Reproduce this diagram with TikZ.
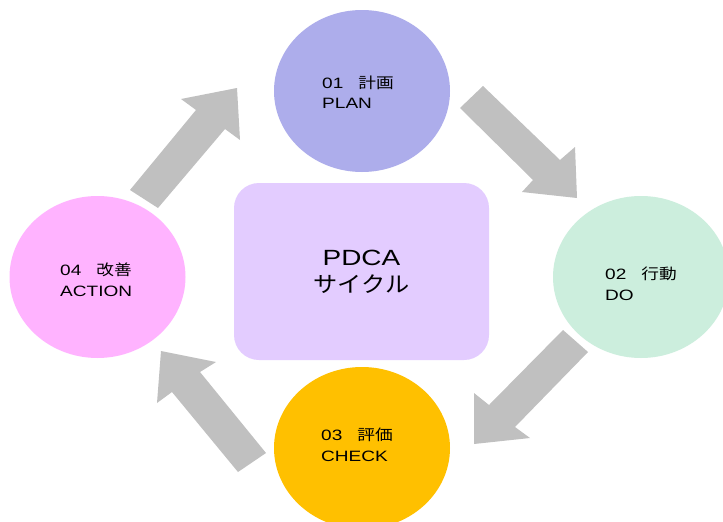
\documentclass[tikz,border=0pt]{standalone}
\usepackage{fontspec}
\setmainfont[FakeStretch=1.27]{Liberation Sans}
\newfontfamily\cjk[FakeStretch=1.1]{Noto Sans CJK JP}
\newfontfamily\cjkw[FakeStretch=1.18]{Noto Sans CJK JP}
\usetikzlibrary{shapes.geometric}
\definecolor{planc}{HTML}{ADADEB}
\definecolor{doc}{HTML}{CCEEDD}
\definecolor{checkc}{HTML}{FFC000}
\definecolor{actc}{HTML}{FFB3FF}
\definecolor{centc}{HTML}{E3CCFF}
\definecolor{arrc}{HTML}{C0C0C0}
\tikzset{
  stage/.style={ellipse, draw=none, minimum width=176pt, minimum height=162pt, inner sep=0pt},
  stagetext/.style={anchor=west, align=left, inner sep=0pt, font=\fontsize{15}{20.5}\selectfont},
  blockarrow/.style={fill=arrc, draw=none},
}
\begin{document}
\begin{tikzpicture}[x=1pt,y=-1pt]
\clip (0,0) rectangle (723,522);
\fill[white] (0,0) rectangle (723,522);
% block arrows
\fill[blockarrow] (130,190) -- (196,110) -- (181,99) -- (237,88) -- (240,140) -- (225,129) -- (158,208) -- cycle;
\fill[blockarrow] (460,108) -- (533,180) -- (522,192) -- (577,198) -- (575,147) -- (560,160) -- (483,86) -- cycle;
\fill[blockarrow] (588,352) -- (515,427) -- (530,438) -- (474,444) -- (474,393) -- (489,405) -- (563,330) -- cycle;
\fill[blockarrow] (238,472) -- (172,392) -- (157,403) -- (161,351) -- (216,362) -- (200,372) -- (266,453) -- cycle;
% stages
\node[stage, fill=planc] (plan) at (362,91) {};
\node[stage, fill=doc] (do) at (641,277) {};
\node[stage, fill=checkc] (check) at (362,448) {};
\node[stage, fill=actc] (act) at (97.5,277) {};
\node[stagetext] (plant) at (322,92) {01\hspace{15pt}{\cjkw 計画}\\PLAN};
\node[stagetext] (dot) at (605,284) {02\hspace{15pt}{\cjkw 行動}\\DO};
\node[stagetext] (checkt) at (321,445) {03\hspace{15pt}{\cjkw 評価}\\CHECK};
\node[stagetext] (actt) at (60,280) {04\hspace{15pt}{\cjkw 改善}\\ACTION};
% center
\node[fill=centc, rounded corners=25pt, minimum width=255pt, minimum height=177pt, inner sep=0pt, align=center,
  font=\fontsize{22}{27}\selectfont] (center) at (361.5,271.5) {PDCA\\{\cjk サイクル}};
\end{tikzpicture}
\end{document}
